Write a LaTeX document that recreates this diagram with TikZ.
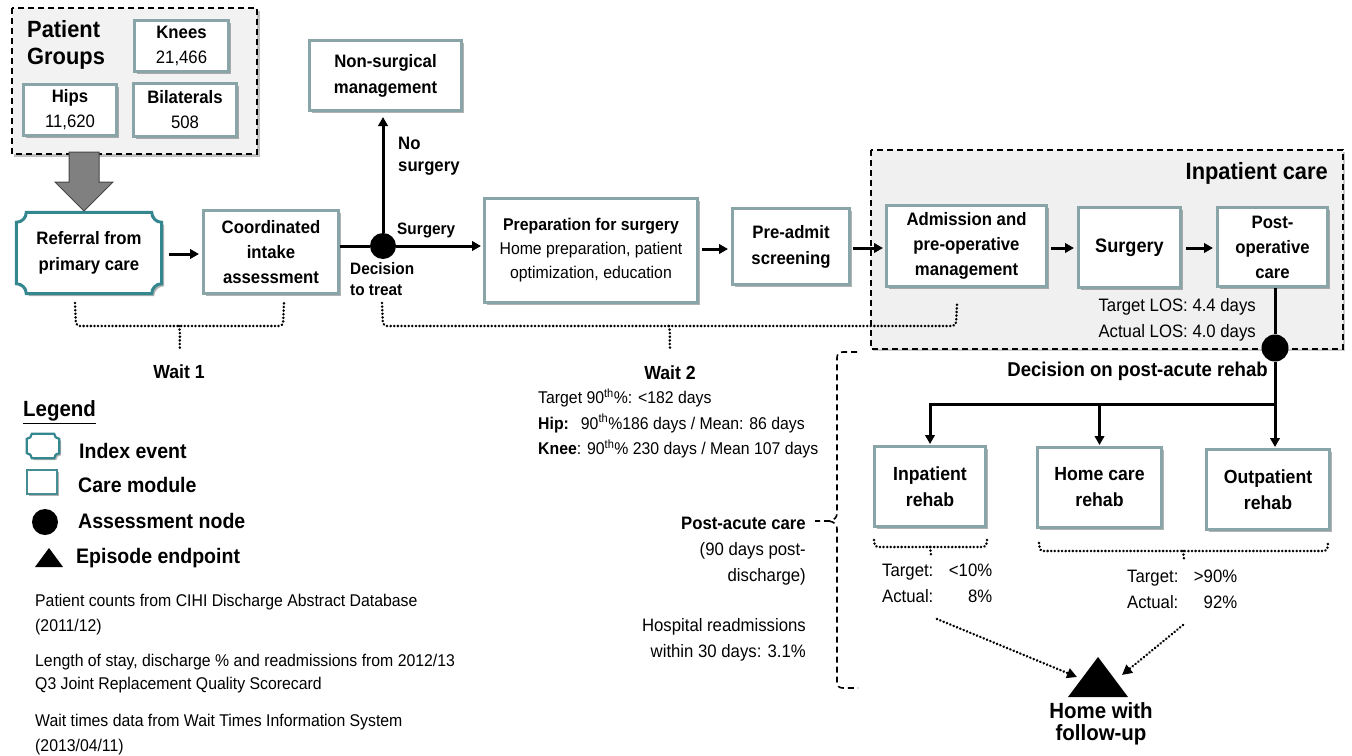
\documentclass[tikz,border=0pt]{standalone}
\usepackage{fontspec}
\setmainfont{Liberation Sans}[FakeStretch=0.93]
\usetikzlibrary{arrows.meta,calc,shadows,backgrounds}
\definecolor{boxc}{RGB}{138,165,168}
\definecolor{tealc}{RGB}{52,135,142}
\definecolor{grpfill}{RGB}{242,242,242}
\definecolor{arrfill}{RGB}{128,128,128}
\definecolor{arrdraw}{RGB}{70,70,70}
\newcommand\fsz[2]{\fontsize{#1}{#2}\selectfont}
\newcommand\plaquepath[2]{%
 ($(#1.north west)+(#2,0)$) -- ($(#1.north east)+(-#2,0)$)
 .. controls ($(#1.north east)+(-#2,0.55*#2)$) and ($(#1.north east)+(-0.55*#2,#2)$) .. ($(#1.north east)+(0,#2)$)
 -- ($(#1.south east)+(0,-#2)$)
 .. controls ($(#1.south east)+(-0.55*#2,-#2)$) and ($(#1.south east)+(-#2,-0.55*#2)$) .. ($(#1.south east)+(-#2,0)$)
 -- ($(#1.south west)+(#2,0)$)
 .. controls ($(#1.south west)+(#2,-0.55*#2)$) and ($(#1.south west)+(0.55*#2,-#2)$) .. ($(#1.south west)+(0,-#2)$)
 -- ($(#1.north west)+(0,#2)$)
 .. controls ($(#1.north west)+(0.55*#2,#2)$) and ($(#1.north west)+(#2,0.55*#2)$) .. ($(#1.north west)+(#2,0)$) -- cycle}
\begin{document}
\begin{tikzpicture}[x=1pt,y=-1pt,
  box/.style={draw=boxc, line width=3pt, fill=white, inner sep=0pt, align=center,
    font=\bfseries\fsz{18}{25},
    drop shadow={shadow xshift=2.5pt, shadow yshift=-2.5pt, opacity=.3, fill=black}},
  sz/.style 2 args={minimum width=#1pt, minimum height=#2pt},
  lab/.style={inner sep=0pt, font=\bfseries\fsz{18}{22}},
  txt/.style={inner sep=0pt, font=\fsz{18}{26}},
  note/.style={inner sep=0pt, font=\fsz{17}{24.5}, align=left, anchor=west},
  leg/.style={inner sep=0pt, font=\bfseries\fsz{21}{24}, anchor=west},
  arr/.style={line width=3pt, -{Triangle[length=9pt,width=9.5pt]}},
  ln/.style={line width=3pt},
  dotb/.style={line width=2.8pt, dash pattern=on 0.01pt off 3.6pt, line cap=round},
  dotarr/.style={dotb, -{Triangle[length=10pt,width=10pt]}},
  dashb/.style={line width=1.6pt, dash pattern=on 6pt off 4pt},
  dec/.style={circle, fill=black, inner sep=0pt, minimum size=26pt},
  grp/.style={dashb, fill=grpfill}
]
\useasboundingbox (0,0) rectangle (1352,755);

% ---------- background groups ----------
\fill[black, opacity=.25] (13.5,10.5) rectangle (259.5,156.5);
\draw[grp] (12,8) rectangle (257,154);
\fill[black, opacity=.2] (873,152) rectangle (1345,351);
\draw[grp, fill={rgb,255:red,240;green,240;blue,240}] (871,150) rectangle (1343,349);

% ---------- patient groups ----------
\node[inner sep=0pt, font=\bfseries\fsz{23.5}{27}, align=left, anchor=west] (pg) at (27,44.5) {Patient\\Groups};
\node[box, sz={94}{51}] (knees) at (181.5,45.5) {Knees\\{\mdseries 21,466}};
\node[box, sz={93}{51}] (hips) at (70,109.5) {Hips\\{\mdseries 11,620}};
\node[box, sz={103}{53}] (bil) at (185,110) {Bilaterals\\{\mdseries 508}};

% big grey arrow
\filldraw[fill=arrfill, draw=arrdraw, line width=1pt]
  (69,152) -- (99,152) -- (99,182) -- (113,182) -- (84,211) -- (55,182) -- (69,182) -- cycle;

% ---------- main flow ----------
\node[inner sep=0pt, align=center, font=\bfseries\fsz{18}{26}, minimum width=145pt, minimum height=81pt] (ref) at (89,253) {Referral from\\primary care};
\begin{scope}[on background layer]
  \begin{scope}[transform canvas={shift={(2.5pt,-2.5pt)}}]
    \fill[black, opacity=.3] \plaquepath{ref}{10};
  \end{scope}
  \filldraw[fill=white, draw=tealc, line width=3pt] \plaquepath{ref}{10};
\end{scope}

\node[box, sz={135}{83}] (coord) at (271,252) {Coordinated\\intake\\assessment};
\node[dec] (dec1) at (383,246) {};
\node[box, sz={152}{70}, font=\bfseries\fsz{18}{26}] (nonsurg) at (385.5,75.5) {Non-surgical\\management};
\node[box, sz={213}{104}, font=\fsz{17}{24}] (prep) at (591,250.5) {\textbf{Preparation for surgery}\\Home preparation, patient\\optimization, education};
\node[box, sz={117}{76}, font=\bfseries\fsz{18}{26}] (preadm) at (791,246.5) {Pre-admit\\screening};
\node[box, sz={160}{81}] (adm) at (966.5,246) {Admission and\\pre-operative\\management};
\node[box, sz={102}{80}, font=\bfseries\fsz{19.5}{25}] (surg) at (1129.5,247.5) {Surgery};
\node[box, sz={110}{79}] (postop) at (1272.5,247) {Post-\\operative\\care};
\node[dec, minimum size=27pt] (dec2) at (1275,348) {};

\draw[arr, shorten <=7pt, shorten >=3pt] (ref.east |- 0,254) -- (coord.west |- 0,254);
\draw[ln] (coord.east |- dec1) -- (dec1);
\draw[arr, shorten >=2pt] (dec1) -- (prep.west |- dec1);
\draw[arr, shorten >=5pt] (dec1) -- (dec1 |- nonsurg.south);
\draw[arr, shorten <=3pt, shorten >=3pt] (prep.east |- 0,249) -- (preadm.west |- 0,249);
\draw[arr, shorten <=2pt, shorten >=2pt] (preadm.east |- 0,248) -- (adm.west |- 0,248);
\draw[arr, shorten <=3pt, shorten >=3pt] (adm.east |- 0,248) -- (surg.west |- 0,248);
\draw[arr, shorten <=4pt, shorten >=3pt] (surg.east |- 0,248) -- (postop.west |- 0,248);
\draw[ln] (postop.south -| dec2) -- (dec2);

\node[lab, align=left, anchor=west] (nosurg) at (398,156) {No\\surgery};
\node[lab, font=\bfseries\fsz{16.5}{20}, anchor=west] (surglab) at (397,230) {Surgery};
\node[lab, font=\bfseries\fsz{16.5}{21}, align=left, anchor=west] (dtt) at (350,279.5) {Decision\\to treat};

% inpatient care labels
\node[inner sep=0pt, font=\bfseries\fsz{23.5}{26}, anchor=east] (inpc) at (1328,173) {Inpatient care};
\node[txt, align=right, anchor=east] (los) at (1256,320) {Target LOS: 4.4 days\\Actual LOS: 4.0 days};
\node[lab, font=\bfseries\fsz{20}{22}, anchor=east] (dpar) at (1268,371) {Decision on post-acute rehab};

% ---------- rehab ----------
\node[box, sz={111}{80}, font=\bfseries\fsz{19}{26}] (inreh) at (930,486.5) {Inpatient\\rehab};
\node[box, sz={124}{80}, font=\bfseries\fsz{19}{26}] (homereh) at (1099.5,487.5) {Home care\\rehab};
\node[box, sz={123}{80}, font=\bfseries\fsz{19}{26}] (outreh) at (1268,489.5) {Outpatient\\rehab};

\coordinate (split) at (1275,404);
\draw[ln] (dec2) -- (split);
\draw[arr, shorten >=1pt] (split) -| (inreh.north);
\draw[arr, shorten >=1pt] (split -| homereh.north) -- (homereh.north);
\draw[arr, shorten >=1pt] (split) -- (outreh.north -| split);

% rehab braces
\draw[dotb, rounded corners=3pt] (874,540) -- (875,547) -- (986,547) -- (987,540);
\draw[dotb] (930,547) -- (931,555);
\draw[dotb, rounded corners=3pt] (1039,543) -- (1040,551) -- (1327,551) -- (1328,543);
\draw[dotb] (1183,551) -- (1184,559);

\node[txt, align=left, anchor=west] (st1) at (882,583.5)
  {\makebox[60pt][l]{Target:}\makebox[50pt][r]{<10\%}\\\makebox[60pt][l]{Actual:}\makebox[50pt][r]{8\%}};
\node[txt, align=left, anchor=west] (st2) at (1127,589)
  {\makebox[60pt][l]{Target:}\makebox[50pt][r]{>90\%}\\\makebox[60pt][l]{Actual:}\makebox[50pt][r]{92\%}};

% endpoint
\fill (1068,697) -- (1098,657) -- (1128,697) -- cycle;
\coordinate (triL) at (1077,677);
\coordinate (triR) at (1122,675);
\node[inner sep=0pt, font=\bfseries\fsz{22}{22}, align=center] (home) at (1101,724) {Home with\\follow-up};
\draw[dotarr] (937,619) -- (triL);
\draw[dotarr] (1183,625) -- (triR);

% ---------- wait braces ----------
\draw[dotb, rounded corners=4pt] (75,303) -- (76,326) -- (283,326) -- (284,303);
\draw[dotb] (179,326) .. controls (181,333) and (179,340) .. (180,350);
\node[lab, font=\bfseries\fsz{19}{22}] (w1) at (179,372) {Wait 1};

\draw[dotb, rounded corners=4pt] (382,303) -- (383,326) -- (956,326) -- (957,303);
\draw[dotb] (669,326) .. controls (671,333) and (669,340) .. (670,348);
\node[lab, font=\bfseries\fsz{19}{22}] (w2) at (670,373) {Wait 2};
\node[inner sep=0pt, font=\fsz{17}{25.5}, align=left, anchor=west] (w2t) at (538,423.5)
  {Target 90\textsuperscript{th}\%: <182 days\\
   \textbf{Hip:}\hspace{12pt}90\textsuperscript{th}\%186 days / Mean: 86 days\\
   \textbf{Knee}: 90\textsuperscript{th}\% 230 days / Mean 107 days};

% ---------- post-acute bracket ----------
\draw[dashb] (857,352) -- (843,352) .. controls (839,352) and (837,354) .. (837,358) -- (837,513)
  .. controls (837,517) and (835,520) .. (829,521) -- (815,521);
\draw[dashb] (829,521) .. controls (835,522) and (837,525) .. (837,529) -- (837,682)
  .. controls (837,686) and (839,688) .. (843,688) -- (858,688);
\node[lab, font=\bfseries\fsz{18}{22}, anchor=east] (pac) at (806,523) {Post-acute care};
\node[txt, align=right, anchor=east] (pac2) at (806,563.5) {(90 days post-\\discharge)};
\node[txt, align=right, anchor=east] (readm) at (806,640) {Hospital readmissions\\within 30 days: 3.1\%};

% ---------- legend ----------
\node[inner sep=0pt, font=\bfseries\fsz{22}{24}, anchor=west] (legt) at (23,412) {\underline{Legend}};
\node[inner sep=0pt, minimum width=32pt, minimum height=24pt] (legidx) at (43,446) {};
\begin{scope}[on background layer]
  \begin{scope}[transform canvas={shift={(2pt,-2pt)}}]
    \fill[black, opacity=.3] \plaquepath{legidx}{5};
  \end{scope}
  \filldraw[fill=white, draw=tealc, line width=2.2pt] \plaquepath{legidx}{5};
\end{scope}
\node[leg] (legidxt) at (79,451) {Index event};
\node[draw=tealc!80!boxc, line width=2.2pt, fill=white, minimum width=30pt, minimum height=24pt, inner sep=0pt,
  drop shadow={shadow xshift=2pt, shadow yshift=-2pt, opacity=.3, fill=black}] (legbox) at (42,482) {};
\node[leg] (legboxt) at (78,485) {Care module};
\node[circle, fill=black, inner sep=0pt, minimum size=26pt] (legdec) at (45,522) {};
\node[leg] (legdect) at (78,521) {Assessment node};
\fill (35,567) -- (49,548) -- (63,567) -- cycle;
\node[leg] (legtrit) at (76,558) {Episode endpoint};

\node[note] (n1) at (35,614.5) {Patient counts from CIHI Discharge Abstract Database\\(2011/12)};
\node[note, font=\fsz{17}{23.5}] (n2) at (35,673.5) {Length of stay, discharge \% and readmissions from 2012/13\\Q3 Joint Replacement Quality Scorecard};
\node[note] (n3) at (35,734.5) {Wait times data from Wait Times Information System\\(2013/04/11)};
\end{tikzpicture}
\end{document}
